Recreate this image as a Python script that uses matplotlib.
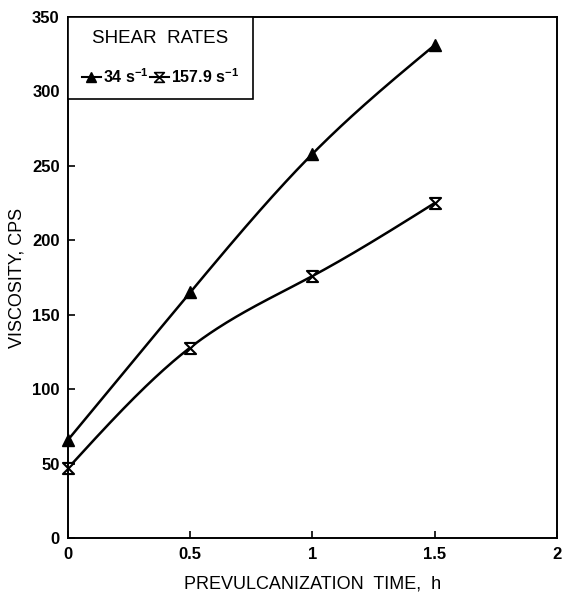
import numpy as np
import matplotlib
matplotlib.use("Agg")
import matplotlib.pyplot as plt
from matplotlib.path import Path

# --- DATA ---
time_h = [0.0, 0.5, 1.0, 1.5]
visc_34 = [66, 165, 258, 331]       # 34 s^-1
visc_158 = [47, 128, 176, 225]      # 157.9 s^-1
xticks = [0, 0.5, 1, 1.5, 2]
xtick_labels = ["0", "0.5", "1", "1.5", "2"]
yticks = [0, 50, 100, 150, 200, 250, 300, 350]


def natural_spline(x, y, n=200):
    # plain natural cubic spline through the measured points
    x = np.asarray(x, float)
    y = np.asarray(y, float)
    k = len(x)
    h = np.diff(x)
    A = np.zeros((k, k))
    b = np.zeros(k)
    A[0, 0] = A[-1, -1] = 1
    for i in range(1, k - 1):
        A[i, i - 1] = h[i - 1]
        A[i, i] = 2 * (h[i - 1] + h[i])
        A[i, i + 1] = h[i]
        b[i] = 6 * ((y[i + 1] - y[i]) / h[i] - (y[i] - y[i - 1]) / h[i - 1])
    m = np.linalg.solve(A, b)
    xs = np.linspace(x[0], x[-1], n)
    idx = np.clip(np.searchsorted(x, xs) - 1, 0, k - 2)
    t0 = x[idx]
    t1 = x[idx + 1]
    hh = t1 - t0
    ys = (m[idx] * (t1 - xs) ** 3 / (6 * hh) + m[idx + 1] * (xs - t0) ** 3 / (6 * hh)
          + (y[idx] / hh - m[idx] * hh / 6) * (t1 - xs)
          + (y[idx + 1] / hh - m[idx + 1] * hh / 6) * (xs - t0))
    return xs, ys


# hourglass marker
hourglass = Path([(-1, 1), (1, 1), (-1, -1), (1, -1), (-1, 1)],
                 [Path.MOVETO, Path.LINETO, Path.LINETO, Path.LINETO, Path.CLOSEPOLY])

plt.rcParams["font.family"] = ["Liberation Sans", "DejaVu Sans"]
plt.rcParams["mathtext.fontset"] = "custom"
plt.rcParams["mathtext.rm"] = "Liberation Sans"
plt.rcParams["mathtext.it"] = "Liberation Sans"
plt.rcParams["mathtext.bf"] = "Liberation Sans:bold"

fig = plt.figure(figsize=(5.62, 6.0), dpi=100)
ax = fig.add_axes([0.121, 0.103, 0.870, 0.869])

xs, ys = natural_spline(time_h, visc_34)
ax.plot(xs, ys, color="black", lw=1.8)
ax.plot(time_h, visc_34, linestyle="none", marker="^", ms=8, color="black", clip_on=False)

xs, ys = natural_spline(time_h, visc_158)
ax.plot(xs, ys, color="black", lw=1.8)
ax.plot(time_h, visc_158, linestyle="none", marker=hourglass, ms=8, mfc="white",
        mec="black", mew=1.5, clip_on=False)

ax.set_xlim(0, 2)
ax.set_ylim(0, 350)
ax.set_xticks(xticks)
ax.set_xticklabels(xtick_labels)
ax.set_yticks(yticks)
ax.tick_params(direction="in", length=5, width=1.2, labelsize=12, pad=6)
for lab in ax.get_xticklabels() + ax.get_yticklabels():
    lab.set_fontweight("bold")
for sp in ax.spines.values():
    sp.set_linewidth(1.4)

ax.set_xlabel("PREVULCANIZATION  TIME,  h", fontsize=13, labelpad=10)
ax.set_ylabel("VISCOSITY, CPS", fontsize=13, labelpad=5)

# legend: title with two side-by-side entries
h1 = plt.Line2D([], [], color="black", lw=1.5, marker="^", ms=7)
h2 = plt.Line2D([], [], color="black", lw=1.5, marker=hourglass, ms=7, mfc="white", mew=1.2)
leg = ax.legend([h1, h2], ["34 s$^{\\mathbf{-1}}$", "157.9 s$^{\\mathbf{-1}}$"],
                title="SHEAR  RATES", ncol=2, loc="upper left", borderaxespad=0,
                fancybox=False, edgecolor="black", framealpha=1,
                handlelength=1.2, handletextpad=0.15, columnspacing=0.05,
                borderpad=0.85, prop={"weight": "bold", "size": 11.5},
                title_fontsize=13.5)
leg.get_frame().set_linewidth(1.2)
leg._legend_box.sep = 14

fig.savefig("out.png", dpi=100)
